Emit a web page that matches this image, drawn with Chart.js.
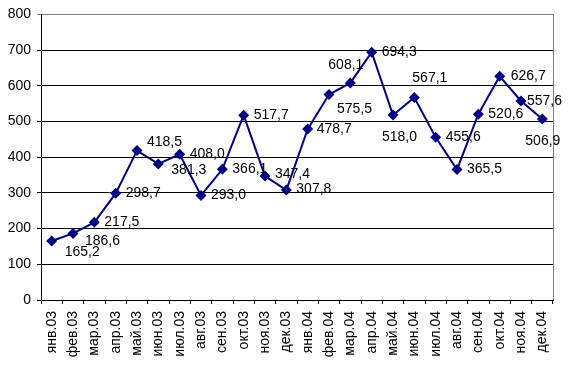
<!DOCTYPE html>
<html>
<head>
<meta charset="utf-8">
<script src="https://cdn.jsdelivr.net/npm/chart.js@4"></script>
<style>
  body { margin: 0; background: #fff; }
  #wrap { width: 574px; height: 376px; }
</style>
</head>
<body>
<div id="wrap"><canvas id="myChart" width="574" height="376"></canvas></div>
<script>
let months = ['янв.03', 'фев.03', 'мар.03', 'апр.03', 'май.03', 'июн.03', 'июл.03', 'авг.03',
              'сен.03', 'окт.03', 'ноя.03', 'дек.03', 'янв.04', 'фев.04', 'мар.04', 'апр.04',
              'май.04', 'июн.04', 'июл.04', 'авг.04', 'сен.04', 'окт.04', 'ноя.04', 'дек.04'];
let values = [165.2, 186.6, 217.5, 298.7, 418.5, 381.3, 408.0, 293.0, 366.1, 517.7, 347.4, 307.8,
              478.7, 575.5, 608.1, 694.3, 518.0, 567.1, 455.6, 365.5, 520.6, 626.7, 557.6, 506.9];
let yTicks = [0, 100, 200, 300, 400, 500, 600, 700, 800];

// where each value label sits relative to its point (left edge, vertical middle)
let labelShift = [[13, 11], [12, 8], [10, 0], [10, 0], [10, -8], [13, 6], [10, 0], [10, 0],
                  [10, 0], [10, 0], [10, -2], [10, -1], [9, 0], [8, 15], [-22, -18], [10, 0],
                  [-11, 22], [-2, -19], [10, 0], [10, 0], [10, 0], [11, 0], [6, 0], [-17, 22]];

const FONT = '"Liberation Sans", Arial, sans-serif';

const valueLabels = {
    id: 'valueLabels',
    afterDatasetsDraw(chart) {
        let ctx = chart.ctx;
        let meta = chart.getDatasetMeta(0);
        ctx.save();
        ctx.font = '14px ' + FONT;
        ctx.fillStyle = '#000';
        ctx.textAlign = 'left';
        ctx.textBaseline = 'middle';
        meta.data.forEach(function (pt, i) {
            let s = labelShift[i];
            ctx.fillText(values[i].toFixed(1).replace('.', ','), pt.x + s[0], pt.y + s[1]);
        });
        ctx.restore();
    }
};

const frameRight = {
    id: 'frameRight',
    beforeDatasetsDraw(chart) {
        let a = chart.chartArea;
        let ctx = chart.ctx;
        ctx.save();
        ctx.strokeStyle = '#808080';
        ctx.lineWidth = 1;
        ctx.beginPath();
        ctx.moveTo(Math.round(a.right) + 0.5, a.top);
        ctx.lineTo(Math.round(a.right) + 0.5, a.bottom);
        ctx.stroke();
        ctx.restore();
    }
};

new Chart('myChart', {
    type: 'line',
    data: {
        labels: months,
        datasets: [{
            data: values,
            borderColor: '#000080',
            backgroundColor: '#000080',
            borderWidth: 2,
            pointStyle: 'rectRot',
            pointRadius: 5.5,
            pointBorderWidth: 0,
            tension: 0,
            fill: false
        }]
    },
    options: {
        responsive: false,
        animation: false,
        layout: { padding: { left: 0, right: 21, top: 12, bottom: 0 } },
        plugins: {
            legend: { display: false },
            tooltip: { enabled: false }
        },
        scales: {
            x: {
                type: 'category',
                offset: true,
                grid: {
                    offset: true,
                    drawOnChartArea: false,
                    drawTicks: true,
                    tickLength: 4,
                    color: '#000'
                },
                border: { color: '#000', width: 1 },
                ticks: {
                    autoSkip: false,
                    minRotation: 90,
                    maxRotation: 90,
                    padding: 7,
                    color: '#000',
                    font: { family: FONT, size: 14 }
                },
                afterFit(scale) { scale.height = 76; }
            },
            y: {
                min: yTicks[0],
                max: yTicks[yTicks.length - 1],
                afterBuildTicks(scale) { scale.ticks = yTicks.map(v => ({ value: v })); },
                grid: {
                    color: ctx => (ctx.tick && ctx.tick.value === 800) ? '#808080' : '#000',
                    tickLength: 4,
                    drawTicks: true
                },
                border: { color: '#000', width: 1 },
                ticks: {
                    padding: 6,
                    color: '#000',
                    font: { family: FONT, size: 14 }
                },
                afterFit(scale) { scale.width = 41; }
            }
        }
    },
    plugins: [frameRight, valueLabels]
});
</script>
</body>
</html>
